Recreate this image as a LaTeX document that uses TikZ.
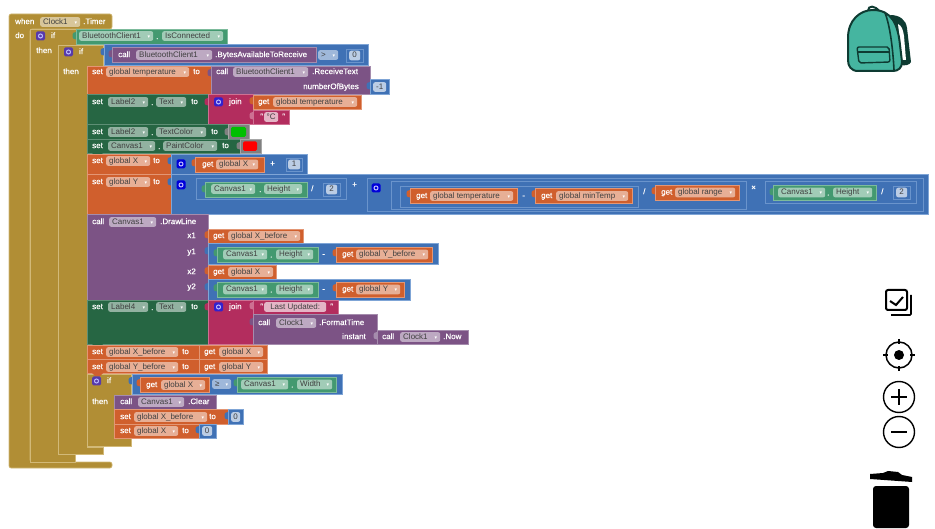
\documentclass[tikz,border=0pt]{standalone}
\usepackage{fontspec}
\setmainfont{Liberation Sans}
\newfontfamily\dejavu{DejaVu Sans}
\newfontfamily\lblfont[FakeBold=.5]{Liberation Sans}

\definecolor{goldc}{HTML}{B18E35}
\definecolor{goldedge}{HTML}{D2B978}
\definecolor{orangec}{HTML}{D05F2D}
\definecolor{orangeedge}{HTML}{E39674}
\definecolor{setgreenc}{HTML}{266643}
\definecolor{setgreenedge}{HTML}{5E8F75}
\definecolor{compgreenc}{HTML}{439970}
\definecolor{compgreenedge}{HTML}{7DBB9C}
\definecolor{bluec}{HTML}{3F71B5}
\definecolor{blueedge}{HTML}{7FA5D6}
\definecolor{socketc}{HTML}{6A94CC}
\definecolor{purplec}{HTML}{7C5385}
\definecolor{purpleedge}{HTML}{A58CAD}
\definecolor{pinkc}{HTML}{B32D5E}
\definecolor{pinkedge}{HTML}{CE7092}
\definecolor{bagc}{HTML}{45B5A0}
\definecolor{bagline}{HTML}{0E3B32}

\newcommand{\ddarrow}{{\dejavu\fontsize{5}{5}\selectfont\textcolor{white}{▾}}}
% chip: name, left, right, y, text
\newcommand{\chip}[5]{\node (#1) [chipbox, anchor=west] at (#2,#4) {\makebox[\dimexpr#3pt-#2pt-6pt\relax][l]{#5\hfill\ddarrow}};}
\newcommand{\numchip}[5]{\node (#1) [chipbox, anchor=west, fill opacity=.65] at (#2,#4) {\makebox[\dimexpr#3pt-#2pt-6pt\relax][c]{#5}};}
% tab: colour, x, top
\newcommand{\tab}[3]{\fill[#1] (#2,#3) -- ++(-2.5,.8) -- ++(-1,1.7) -- ++(0,2.5) -- ++(1,1.7) -- ++(2.5,.8) -- cycle;}
% notch: colour, x, y
\newcommand{\notch}[3]{\fill[#1] (#2+5,#3) -- ++(3,3) -- ++(5,0) -- ++(3,-3) -- cycle;}

\begin{document}
\begin{tikzpicture}[x=1pt, y=-1pt]
	\tikzstyle{goldblk} = [fill=goldc, draw=goldedge, line width=.6pt]
	\tikzstyle{orangeblk} = [fill=orangec, draw=orangeedge, line width=.6pt]
	\tikzstyle{setblk} = [fill=setgreenc, draw=setgreenedge, line width=.6pt]
	\tikzstyle{compblk} = [fill=compgreenc, draw=compgreenedge, line width=.6pt]
	\tikzstyle{blueblk} = [fill=bluec, draw=blueedge, line width=.6pt]
	\tikzstyle{purpleblk} = [fill=purplec, draw=purpleedge, line width=.6pt]
	\tikzstyle{pinkblk} = [fill=pinkc, draw=pinkedge, line width=.6pt]
	\tikzstyle{greyblk} = [fill=black!50, draw=black!35, line width=.6pt]
	\tikzstyle{socket} = [draw=socketc, line width=.5pt]
	\tikzstyle{lbl} = [
		text=white, font=\lblfont\fontsize{8}{9}\selectfont, inner sep=0pt, anchor=west,
		text height=5.8pt, text depth=1.6pt
	]
	\tikzstyle{rlbl} = [lbl, anchor=east]
	\tikzstyle{chipbox} = [
		fill=white, fill opacity=.5, text opacity=1, text=black!75,
		rounded corners=2pt, inner xsep=3pt, inner ysep=1.1pt,
		font=\fontsize{8}{9}\selectfont, text height=5.8pt, text depth=1.6pt
	]
	\tikzstyle{mutator} = [
		rounded corners=1.5pt, minimum size=9pt, inner sep=0pt,
		path picture={\draw[white!75!blue, line width=1pt] (path picture bounding box.center) circle (2);}
	]
	\tikzstyle{icon} = [line width=2pt, draw=black]

	\useasboundingbox (0,0) rectangle (935,529);

	% when
	\draw[goldblk, rounded corners=2pt] (9,14) -- (112,14) -- (112,29) -- (30,29) -- (30,462) -- (112,462) -- (112,468) -- (9,468) -- cycle;
	% if connected
	\draw[goldblk] (30,29) -- (76,29) -- (76,45) -- (58,45) -- (58,454) -- (75,454) -- (75,462) -- (30,462) -- cycle;
	% if bytes available
	\draw[goldblk] (58,45) -- (103,45) -- (103,66) -- (87,66) -- (87,447) -- (103,447) -- (103,454) -- (58,454) -- cycle;
	% if X >= width
	\draw[goldblk] (87,374) -- (131,374) -- (131,395) -- (114,395) -- (114,438) -- (131,438) -- (131,446) -- (87,446) -- cycle;

	\node (when_lbl) [lbl] at (15,22) {when};
	\chip{when_clock}{40}{80}{22}{Clock1}
	\node (when_timer) [lbl] at (83,22) {.Timer};
	\node (do_lbl) [lbl] at (15,36) {do};
	\node (if1_btn) [mutator, fill=purplec!70!blue] at (40.5,36) {};
	\node (if1_lbl) [lbl] at (51,36) {if};
	\node (then1_lbl) [lbl] at (36,51) {then};
	\node (if2_btn) [mutator, fill=purplec!70!blue] at (68.5,52) {};
	\node (if2_lbl) [lbl] at (79,52) {if};
	\node (then2_lbl) [lbl] at (63,72) {then};

	% BluetoothClient1.IsConnected
	\tab{compgreenc}{76}{32}
	\draw[compblk] (76,29) rectangle (227,44);
	\chip{conn_bt}{79}{153}{36}{BluetoothClient1}
	\node (conn_dot) [lbl] at (156,37) {.};
	\chip{conn_is}{162}{223}{36}{IsConnected}

	% BytesAvailable > 0
	\tab{bluec}{104}{48}
	\draw[blueblk] (104,44) rectangle (368,65);
	\tab{purplec}{112}{50}
	\draw[purpleblk] (112,47) rectangle (316,62);
	\node (bytes_call) [lbl] at (118,55) {call};
	\chip{bytes_bt}{136}{212}{55}{BluetoothClient1}
	\node (bytes_lbl) [lbl] at (215,55) {.BytesAvailableToReceive};
	\chip{bytes_gt}{318}{338}{55}{>}
	\draw[socket] (346,49) rectangle (363,62);
	\numchip{bytes_zero}{349}{360}{55.5}{0}

	% set temperature
	\draw[orangeblk] (87,66) rectangle (211,94);
	\node (temp_set) [lbl] at (92,72) {set};
	\chip{temp_var}{106}{189}{72}{global temperature}
	\node (temp_to) [lbl] at (193,72) {to};
	\tab{purplec}{211}{69}
	\draw[purpleblk] (211,66) rectangle (370,94);
	\node (recv_call) [lbl] at (216,72) {call};
	\chip{recv_bt}{233}{308}{72}{BluetoothClient1}
	\node (recv_lbl) [lbl] at (312,72) {.ReceiveText};
	\node (recv_num) [rlbl] at (359,87) {numberOfBytes};
	\tab{bluec}{370}{82}
	\draw[blueblk] (370,79) rectangle (389,94);
	\numchip{recv_minus}{373}{386}{87}{-1}
	\notch{orangec}{87}{94}

	% set Label2.Text
	\draw[setblk] (87,94) rectangle (208,124);
	\node (lab_set) [lbl] at (92,102) {set};
	\chip{lab_name}{108}{148}{102}{Label2}
	\node (lab_dot) [lbl] at (151,103) {.};
	\chip{lab_text}{156}{186}{102}{Text}
	\node (lab_to) [lbl] at (191,102) {to};
	\tab{pinkc}{208}{98}
	\draw[pinkblk] (208,94) rectangle (253,124);
	\node (join1_btn) [mutator, fill=blue!60!purplec] at (218.5,102) {};
	\node (join1_lbl) [lbl] at (229,102) {join};
	\tab{orangec}{253}{97}
	\draw[orangeblk] (253,95) rectangle (361,109);
	\node (join1_get) [lbl] at (258,102) {get};
	\chip{join1_var}{273}{357}{102}{global temperature}
	\tab{pinkedge}{253}{112}
	\draw[pinkblk] (253,110) rectangle (289,124);
	\node (deg_open) [lbl] at (260,117) {"};
	\numchip{deg_text}{264}{278}{117}{°C}
	\node (deg_close) [lbl] at (282,117) {"};
	\notch{setgreenc}{87}{124}

	% set Label2.TextColor
	\draw[setblk] (87,124) rectangle (228,139);
	\node (col_set) [lbl] at (92,132) {set};
	\chip{col_name}{108}{148}{132}{Label2}
	\node (col_dot) [lbl] at (151,133) {.};
	\chip{col_text}{156}{206}{132}{TextColor}
	\node (col_to) [lbl] at (211,132) {to};
	\tab{black!50}{228}{128}
	\draw[greyblk] (228,124) rectangle (249,139);
	\fill[green!75!black, rounded corners=1.5pt] (231,127) rectangle (246,137);
	\notch{setgreenc}{87}{139}

	% set Canvas1.PaintColor
	\draw[setblk] (87,139) rectangle (240,153);
	\node (paint_set) [lbl] at (92,146) {set};
	\chip{paint_name}{108}{155}{146}{Canvas1}
	\node (paint_dot) [lbl] at (158,147) {.};
	\chip{paint_text}{163}{217}{146}{PaintColor}
	\node (paint_to) [lbl] at (222,146) {to};
	\tab{black!50}{240}{142}
	\draw[greyblk] (240,139) rectangle (261,153);
	\fill[red, rounded corners=1.5pt] (243,141.5) rectangle (257,151);
	\notch{setgreenc}{87}{153}

	% set global X
	\draw[orangeblk] (87,154) rectangle (171,174);
	\node (setx_set) [lbl] at (92,161) {set};
	\chip{setx_var}{106}{150}{161}{global X}
	\node (setx_to) [lbl] at (153,161) {to};
	\tab{bluec}{171}{157}
	\draw[blueblk] (171,154) rectangle (307,174);
	\node (setx_btn) [mutator, fill=blue!85!black] at (181,164) {};
	\tab{orangec}{195}{159}
	\draw[orangeblk] (195,157) rectangle (264,172);
	\node (setx_get) [lbl] at (202,164.5) {get};
	\chip{setx_getvar}{216}{258}{164.5}{global X}
	\node (setx_plus) [lbl] at (270,164) {+};
	\draw[socket] (286,158) rectangle (302,171);
	\numchip{setx_one}{288}{300}{164.5}{1}
	\notch{orangec}{87}{174}

	% set global Y
	\draw[orangeblk] (87,174) rectangle (171,214);
	\node (sety_set) [lbl] at (92,182) {set};
	\chip{sety_var}{106}{150}{182}{global Y}
	\node (sety_to) [lbl] at (153,182) {to};
	\tab{bluec}{171}{178}
	\draw[blueblk] (171,174) rectangle (928,214);
	\node (sety_btn) [mutator, fill=blue!85!black] at (181,185) {};
	\draw[socket] (196,178) rectangle (346,199);
	\tab{compgreenc}{205}{185}
	\draw[compblk] (205,182) rectangle (307,197);
	\chip{half_name}{211}{255}{189}{Canvas1}
	\node (half_dot) [lbl] at (259,190) {.};
	\chip{half_prop}{264}{302}{189}{Height}
	\node (half_div) [lbl] at (311,189) {/};
	\draw[socket] (323,183) rectangle (340,196);
	\numchip{half_two}{326}{337}{189.5}{2}
	\node (sety_plus) [lbl] at (352,185) {+};
	\draw[socket] (367,178) rectangle (923,211);
	\node (sum_btn) [mutator, fill=blue!85!black] at (376,188) {};
	\draw[socket] (391,181) rectangle (746,209);
	\draw[socket] (400,186) rectangle (638,207);
	\tab{orangec}{410}{190}
	\draw[orangeblk] (410,188) rectangle (517,203);
	\node (sum_get) [lbl] at (416,196) {get};
	\chip{sum_var}{430}{513}{196}{global temperature}
	\node (sum_minus) [lbl] at (522,196) {-};
	\tab{orangec}{535}{190}
	\draw[orangeblk] (535,188) rectangle (632,203);
	\node (min_get) [lbl] at (541,196) {get};
	\chip{min_var}{556}{628}{196}{global minTemp}
	\node (sum_div) [lbl] at (643,192) {/};
	\tab{orangec}{655}{187}
	\draw[orangeblk] (655,185) rectangle (739,200);
	\node (range_get) [lbl] at (661,192.5) {get};
	\chip{range_var}{675}{735}{192.5}{global range}
	\node (sum_times) [lbl] at (751,188) {×};
	\draw[socket] (765,181) rectangle (916,203);
	\tab{compgreenc}{773}{188}
	\draw[compblk] (773,185) rectangle (876,200);
	\chip{scale_name}{778}{825}{192.5}{Canvas1}
	\node (scale_dot) [lbl] at (827,193.5) {.};
	\chip{scale_prop}{833}{872}{192.5}{Height}
	\node (scale_div) [lbl] at (881,192) {/};
	\draw[socket] (893,186) rectangle (910,199);
	\numchip{scale_two}{896}{907}{192.5}{2}
	\notch{orangec}{87}{214}

	% Canvas1.DrawLine
	\draw[purpleblk] (87,214) rectangle (208,300);
	\node (line_call) [lbl] at (92,222) {call};
	\chip{line_name}{109}{156}{222}{Canvas1}
	\node (line_lbl) [lbl] at (160,222) {.DrawLine};
	\node (line_x1) [rlbl] at (196,236) {x1};
	\node (line_y1) [rlbl] at (196,252) {y1};
	\node (line_x2) [rlbl] at (196,272) {x2};
	\node (line_y2) [rlbl] at (196,287) {y2};
	% x1
	\tab{orangec}{208}{231}
	\draw[orangeblk] (208,229) rectangle (303,243);
	\node (x1_get) [lbl] at (213,236) {get};
	\chip{x1_var}{228}{300}{236}{global X\_before}
	% y1
	\tab{bluec}{208}{247}
	\draw[blueblk] (208,243) rectangle (438,264);
	\tab{compgreenc}{217}{249}
	\draw[compblk] (217,247) rectangle (318,262);
	\chip{y1_name}{223}{267}{254.5}{Canvas1}
	\node (y1_dot) [lbl] at (270,255.5) {.};
	\chip{y1_prop}{276}{313}{254.5}{Height}
	\node (y1_minus) [lbl] at (322,254.5) {-};
	\tab{orangec}{336}{249}
	\draw[orangeblk] (336,247) rectangle (432,262);
	\node (y1_get) [lbl] at (342,254.5) {get};
	\chip{y1_var}{356}{428}{254.5}{global Y\_before}
	% x2
	\tab{orangec}{208}{267}
	\draw[orangeblk] (208,265) rectangle (276,279);
	\node (x2_get) [lbl] at (213,272) {get};
	\chip{x2_var}{228}{273}{272}{global X}
	% y2
	\tab{bluec}{208}{283}
	\draw[blueblk] (208,279) rectangle (410,300);
	\tab{compgreenc}{217}{284}
	\draw[compblk] (217,282) rectangle (318,297);
	\chip{y2_name}{223}{267}{289.5}{Canvas1}
	\node (y2_dot) [lbl] at (270,290.5) {.};
	\chip{y2_prop}{276}{313}{289.5}{Height}
	\node (y2_minus) [lbl] at (322,289.5) {-};
	\tab{orangec}{336}{284}
	\draw[orangeblk] (336,282) rectangle (404,297);
	\node (y2_get) [lbl] at (342,289.5) {get};
	\chip{y2_var}{356}{400}{289.5}{global Y}
	\notch{purplec}{87}{300}

	% set Label4.Text
	\draw[setblk] (87,300) rectangle (208,344);
	\node (upd_set) [lbl] at (92,307) {set};
	\chip{upd_name}{108}{148}{307}{Label4}
	\node (upd_dot) [lbl] at (151,308) {.};
	\chip{upd_text}{156}{186}{307}{Text}
	\node (upd_to) [lbl] at (191,307) {to};
	\tab{pinkc}{208}{303}
	\draw[pinkblk] (208,300) rectangle (253,344);
	\node (join2_btn) [mutator, fill=blue!60!purplec] at (218.5,307) {};
	\node (join2_lbl) [lbl] at (229,307) {join};
	\tab{pinkedge}{253}{302}
	\draw[pinkblk] (253,300) rectangle (338,314);
	\node (last_open) [lbl] at (260,307) {"};
	\numchip{last_text}{264}{326}{307}{Last Updated:}
	\node (last_close) [lbl] at (330,307) {"};
	\tab{purplec}{253}{318}
	\draw[purpleblk] (253,314) rectangle (377,344);
	\node (fmt_call) [lbl] at (258,323) {call};
	\chip{fmt_name}{276}{316}{323}{Clock1}
	\node (fmt_lbl) [lbl] at (319,323) {.FormatTime};
	\node (fmt_inst) [rlbl] at (366,337) {instant};
	\tab{purpleedge}{377}{332}
	\draw[purpleblk] (377,330) rectangle (468,344);
	\node (now_call) [lbl] at (382,337) {call};
	\chip{now_name}{400}{440}{337}{Clock1}
	\node (now_lbl) [lbl] at (443,337) {.Now};
	\notch{setgreenc}{87}{344}

	% set X_before, Y_before
	\draw[orangeblk] (87,345) rectangle (199,359);
	\node (xb_set) [lbl] at (92,352) {set};
	\chip{xb_var}{106}{178}{352}{global X\_before}
	\node (xb_to) [lbl] at (182,352) {to};
	\draw[orangeblk] (199,345) rectangle (267,359);
	\node (xb_get) [lbl] at (204,352) {get};
	\chip{xb_getvar}{219}{263}{352}{global X}
	\notch{orangec}{87}{359}
	\draw[orangeblk] (87,359) rectangle (199,373);
	\node (yb_set) [lbl] at (92,367) {set};
	\chip{yb_var}{106}{178}{367}{global Y\_before}
	\node (yb_to) [lbl] at (182,367) {to};
	\draw[orangeblk] (199,359) rectangle (267,373);
	\node (yb_get) [lbl] at (204,367) {get};
	\chip{yb_getvar}{219}{263}{367}{global Y}
	\notch{orangec}{87}{373}

	% if X >= width
	\node (if3_btn) [mutator, fill=purplec!70!blue] at (96.5,381) {};
	\node (if3_lbl) [lbl] at (107,381) {if};
	\node (then3_lbl) [lbl] at (92,402) {then};
	\tab{bluec}{132}{377}
	\draw[blueblk] (132,374) rectangle (342,394);
	\tab{orangec}{140}{379}
	\draw[orangeblk] (140,377) rectangle (209,392);
	\node (cmp_get) [lbl] at (146,385) {get};
	\chip{cmp_var}{161}{205}{385}{global X}
	\chip{cmp_ge}{212}{231}{384}{≥}
	\tab{compgreenc}{237}{379}
	\draw[compblk] (237,377) rectangle (336,392);
	\chip{cmp_name}{241}{288}{384.5}{Canvas1}
	\node (cmp_dot) [lbl] at (291,385.5) {.};
	\chip{cmp_prop}{297}{332}{384.5}{Width}

	% Canvas1.Clear and resets
	\draw[purpleblk] (114,395) rectangle (216,409);
	\node (clr_call) [lbl] at (120,402) {call};
	\chip{clr_name}{138}{184}{402}{Canvas1}
	\node (clr_lbl) [lbl] at (188,402) {.Clear};
	\notch{purplec}{114}{409}
	\draw[orangeblk] (114,409) rectangle (228,424);
	\node (rst1_set) [lbl] at (120,417) {set};
	\chip{rst1_var}{134}{207}{417}{global X\_before}
	\node (rst1_to) [lbl] at (209,417) {to};
	\tab{bluec}{228}{412}
	\draw[blueblk] (228,409) rectangle (243,424);
	\numchip{rst1_zero}{231}{240}{417}{0}
	\notch{orangec}{114}{424}
	\draw[orangeblk] (114,424) rectangle (199,438);
	\node (rst2_set) [lbl] at (120,431) {set};
	\chip{rst2_var}{134}{178}{431}{global X}
	\node (rst2_to) [lbl] at (182,431) {to};
	\tab{bluec}{199}{426}
	\draw[blueblk] (199,424) rectangle (216,438);
	\numchip{rst2_zero}{202}{212}{431}{0}

	% backpack
	\fill[bagline] (890,15) .. controls (900,15) and (906,20) .. (907,28) -- (911,62) .. controls (910,65) and (905,66) .. (900,65) -- (893,20) -- cycle;
	\fill[white] (898,24) .. controls (902,26) and (903,30) .. (904,36) -- (906,60) -- (902,60) -- cycle;
	\draw[bagline, line width=2pt] (868,11) .. controls (868,5) and (875,5) .. (880,12);
	\draw[bagline, line width=2pt, fill=bagc] (848,38) .. controls (848,20) and (860,10) .. (873,10) .. controls (892,10) and (898,25) .. (900,45) -- (902,62) .. controls (902,68) and (898,71) .. (893,71) -- (858,71) .. controls (851,71) and (848,66) .. (848,60) -- cycle;
	\draw[bagline, line width=1.6pt] (885,13) .. controls (890,25) and (893,50) .. (894,70);
	\draw[bagline, line width=1.4pt, rounded corners=2pt] (857,47) -- (889,47) -- (890,62) -- (859,63) -- cycle;
	\draw[bagline, line width=1.2pt] (857,52) -- (889,52);

	% check list
	\draw[icon, rounded corners=2pt] (886,290) rectangle (907,310);
	\draw[icon, line width=1.7pt, rounded corners=1pt] (911,295) -- (911,315) -- (891,315);
	\draw[icon] (890,301) -- (896,305) -- (903,297);

	% target
	\draw[icon, line width=1.5pt] (899,355) circle (13);
	\fill (899,355) circle (5);
	\draw[icon, line width=1.3pt] (899,339) -- (899,344) (899,366) -- (899,371) (883,355) -- (888,355) (910,355) -- (915,355);

	% zoom in, zoom out
	\draw[icon, line width=1.4pt] (899,397) circle (15.5);
	\draw[icon] (891,397) -- (907,397) (899,389) -- (899,405);
	\draw[icon, line width=1.4pt] (899,432) circle (15.5);
	\draw[icon] (891,432) -- (907,432);

	% trash
	\fill (870,474) -- (883,473) -- (888,471) -- (898,472) -- (902,475) -- (912,477) -- (912,482) -- (870,479) -- cycle;
	\fill[rounded corners=3pt] (873,486) -- (909,486) -- (909,528) -- (873,528) -- cycle;

\end{tikzpicture}
\end{document}
